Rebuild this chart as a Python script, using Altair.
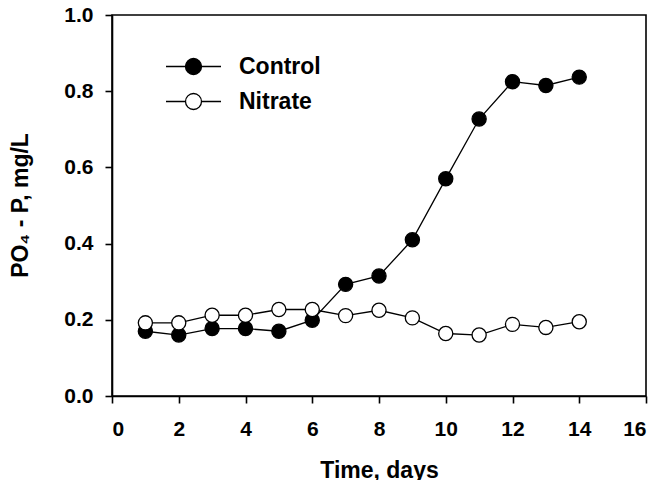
import altair as alt
import pandas as pd

days = list(range(1, 15))
control = [0.170, 0.160, 0.177, 0.177, 0.170, 0.199, 0.293, 0.315, 0.410, 0.570, 0.727, 0.825, 0.815, 0.837]
nitrate = [0.192, 0.192, 0.212, 0.212, 0.227, 0.227, 0.211, 0.225, 0.205, 0.164, 0.160, 0.188, 0.180, 0.195]
series_names = ["Control", "Nitrate"]
x_ticks = [0, 2, 4, 6, 8, 10, 12, 14, 16]
y_ticks = [0.0, 0.2, 0.4, 0.6, 0.8, 1.0]

df = pd.DataFrame({
    "day": days + days,
    "value": control + nitrate,
    "series": [series_names[0]] * len(days) + [series_names[1]] * len(days),
})

FONT = "Liberation Sans"
legend_path = "M-3.44,0L-1,0M1,0L3.44,0M1,0A1,1,0,1,1,-1,0A1,1,0,1,1,1,0Z"

base = alt.Chart(df).encode(
    x=alt.X("day:Q", scale=alt.Scale(domain=[0, 16], nice=False, zero=False),
            axis=alt.Axis(values=x_ticks, title="Time, days", format="d",
                          labelPadding=32, labelBaseline="alphabetic",
                          titleBaseline="alphabetic", titleY=81, titleX=267,
                          titleAnchor="middle")),
    y=alt.Y("value:Q", scale=alt.Scale(domain=[0, 1], nice=False),
            axis=alt.Axis(values=y_ticks, title="PO₄ - P, mg/L", format=".1f",
                          labelPadding=12, titleX=-92, titleY=190,
                          titleBaseline="middle", titleAngle=-90)),
)

lines = base.mark_line(color="black", strokeWidth=1.3).encode(detail="series:N")
points = base.mark_point(filled=True, size=200, stroke="black", strokeWidth=1.3, opacity=1).encode(
    fill=alt.Fill("series:N", scale=alt.Scale(domain=series_names, range=["black", "white"]),
                  legend=alt.Legend(title=None, orient="none", legendX=70, legendY=40,
                                    symbolType=legend_path, symbolSize=256,
                                    symbolStrokeColor="black", symbolStrokeWidth=1.3,
                                    labelOffset=34, rowPadding=11, padding=0,
                                    labelFont=FONT, labelFontSize=23, labelFontWeight="bold",
                                    labelColor="black")),
)

chart = (lines + points).properties(
    width=534, height=381,
    autosize=alt.AutoSizeParams(type="none"),
    padding={"left": 112, "top": 15, "right": 18, "bottom": 84},
).configure_view(
    stroke="black", strokeWidth=1.6
).configure_axis(
    grid=False, domainColor="black", domainWidth=1.6, tickColor="black", tickWidth=1.6,
    tickSize=7, labelFont=FONT, labelFontSize=21, labelFontWeight="bold", labelColor="black",
    titleFont=FONT, titleFontSize=23, titleFontWeight="bold", titleColor="black",
)

chart.save("out.html", embed_options={"renderer": "svg", "actions": False})
